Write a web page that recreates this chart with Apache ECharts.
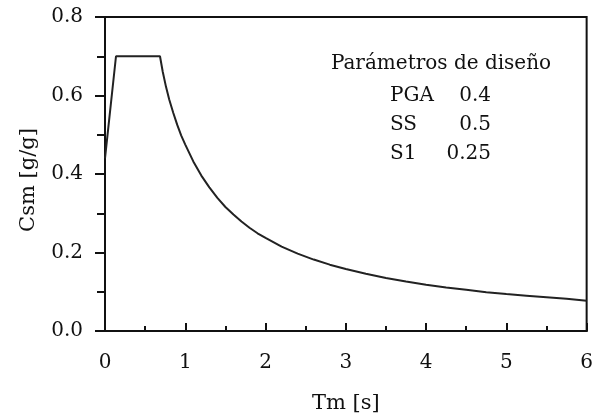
<!DOCTYPE html>
<html>
<head>
<meta charset="utf-8">
<script src="https://cdn.jsdelivr.net/npm/echarts@6/dist/echarts.min.js"></script>
<style>
html,body{margin:0;padding:0;background:#fff;}
#chart{width:596px;height:419px;}
</style>
</head>
<body>
<div id="chart"></div>
<script>
// Period Tm [s] and spectral coefficient Csm [g/g]
var periods = [0, 0.137, 0.685, 0.72, 0.76, 0.8, 0.85, 0.9, 0.95, 1.0, 1.1, 1.2, 1.3, 1.4, 1.5, 1.6, 1.7, 1.8, 1.9, 2.0, 2.2, 2.4, 2.6, 2.8, 3.0, 3.25, 3.5, 3.75, 4.0, 4.25, 4.5, 4.75, 5.0, 5.25, 5.5, 5.75, 6.0];
var csm =     [0.44, 0.70, 0.70, 0.66, 0.622, 0.59, 0.556, 0.525, 0.498, 0.475, 0.432, 0.396, 0.366, 0.339, 0.316, 0.297, 0.279, 0.263, 0.249, 0.237, 0.215, 0.197, 0.182, 0.169, 0.158, 0.146, 0.135, 0.126, 0.118, 0.111, 0.105, 0.099, 0.094, 0.090, 0.086, 0.082, 0.077];

var xTicks = [0, 1, 2, 3, 4, 5, 6];
var yTicks = [0.0, 0.2, 0.4, 0.6, 0.8];

var legendTitle = 'Parámetros de diseño';
var paramNames = ['PGA', 'SS', 'S1'];
var paramValues = ['0.4', '0.5', '0.25'];

var FONT = 'DejaVu Serif';
var INK = '#111';

var seriesData = periods.map(function (t, i) { return [t, csm[i]]; });

var graphics = [{
  type: 'text',
  style: { text: legendTitle, x: 441, y: 64, align: 'center', verticalAlign: 'middle',
           font: '20px "' + FONT + '"', fill: INK }
}];
var rowY = [96, 125, 154];
paramNames.forEach(function (n, i) {
  graphics.push({ type: 'text', style: { text: n, x: 390, y: rowY[i], align: 'left', verticalAlign: 'middle',
    font: '20px "' + FONT + '"', fill: INK } });
  graphics.push({ type: 'text', style: { text: paramValues[i], x: 491, y: rowY[i], align: 'right', verticalAlign: 'middle',
    font: '20px "' + FONT + '"', fill: INK } });
});

var chart = echarts.init(document.getElementById('chart'), null, { renderer: 'canvas' });
chart.setOption({
  animation: false,
  backgroundColor: '#fff',
  grid: { left: 105, right: 9, top: 17, bottom: 87, show: true, borderColor: INK, borderWidth: 2, backgroundColor: 'transparent' },
  xAxis: {
    type: 'value', min: xTicks[0], max: xTicks[xTicks.length - 1], interval: 1,
    name: 'Tm [s]', nameLocation: 'middle', nameGap: 62,
    nameTextStyle: { fontFamily: FONT, fontSize: 21, color: INK },
    axisLine: { show: true, lineStyle: { color: INK, width: 2 } },
    axisTick: { show: true, inside: true, length: 8, lineStyle: { color: INK, width: 2 } },
    minorTick: { show: true, splitNumber: 2, length: 5, lineStyle: { color: INK, width: 2 } },
    splitLine: { show: false },
    axisLabel: { fontFamily: FONT, fontSize: 20, color: INK, margin: 22, showMaxLabel: true, showMinLabel: true }
  },
  yAxis: {
    type: 'value', min: yTicks[0], max: yTicks[yTicks.length - 1], interval: 0.2,
    name: 'Csm [g/g]', nameLocation: 'middle', nameGap: 66,
    nameTextStyle: { fontFamily: FONT, fontSize: 21, color: INK, padding: [0, 12, 0, 0] },
    axisLine: { show: true, lineStyle: { color: INK, width: 2 } },
    axisTick: { show: true, inside: false, length: 10, lineStyle: { color: INK, width: 2 } },
    minorTick: { show: true, splitNumber: 2, length: 8, lineStyle: { color: INK, width: 2 } },
    splitLine: { show: false },
    axisLabel: { fontFamily: FONT, fontSize: 20, color: INK, margin: 22,
      formatter: function (v) { return v.toFixed(1); } }
  },
  series: [{
    type: 'line', data: seriesData, showSymbol: false, smooth: false,
    lineStyle: { color: '#222', width: 2 }
  }],
  graphic: graphics
});
</script>
</body>
</html>
